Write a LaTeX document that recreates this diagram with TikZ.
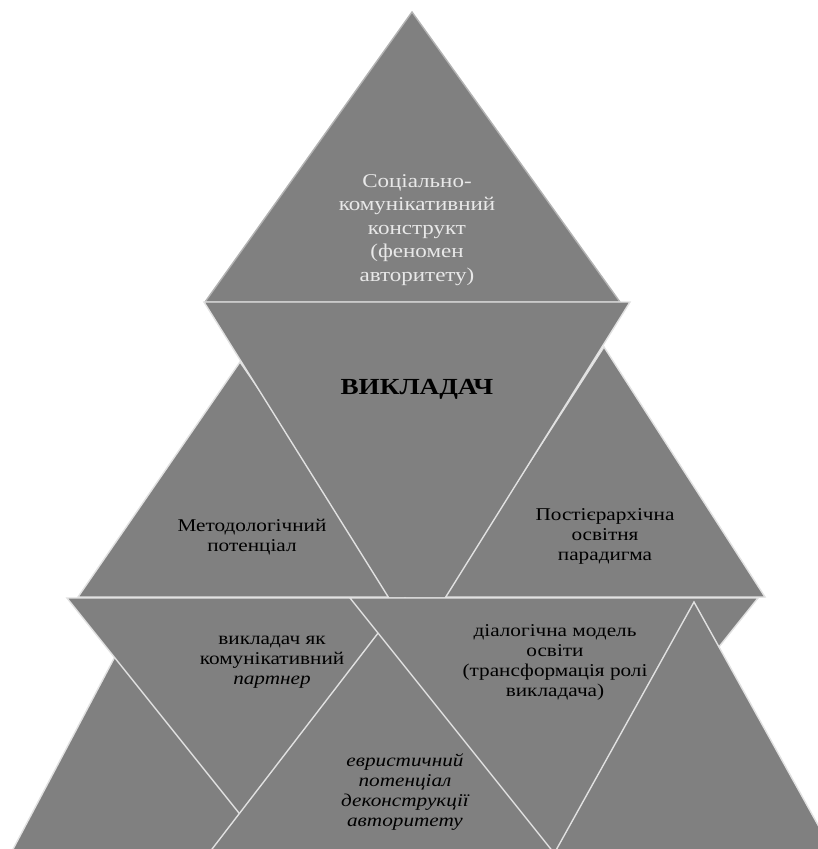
\documentclass[tikz,border=0pt]{standalone}
\usepackage{fontspec}
\setmainfont{Liberation Serif}
\newfontfamily\wserif[FakeStretch=1.18]{Liberation Serif}
\definecolor{tgray}{RGB}{128,128,128}
\definecolor{tline}{RGB}{225,225,225}
\definecolor{toptext}{RGB}{232,232,232}
\tikzset{
  tri/.style={fill=tgray, draw=tline, line width=1.4pt, line join=miter},
  lbl/.style={align=center, inner sep=0pt, text=black,
    font=\wserif\fontsize{18}{20}\selectfont},
  toplbl/.style={align=center, inner sep=0pt, text=toptext,
    font=\wserif\fontsize{19.5}{23.5}\selectfont},
}
\begin{document}
\begin{tikzpicture}[x=1pt,y=-1pt]
\useasboundingbox (0,0) rectangle (818,849);
\clip (0,0) rectangle (818,849);
% row 1
\draw[tri, draw=tgray!60!white] (412,12) -- (620,302) -- (205,302) -- cycle;
% row 2
\draw[tri] (240,362) -- (402,597) -- (78,597) -- cycle;
\draw[tri] (604,347) -- (765,597) -- (443,597) -- cycle;
\draw[tri] (204,302) -- (630,302) -- (417,643) -- cycle;
% row 3
\draw[tri] (145,600) -- (288,870) -- (2,870) -- cycle;
\draw[tri] (67,598) -- (475,598) -- (271,853) -- cycle;
\draw[tri] (405,598) -- (601,853) -- (209,853) -- cycle;
\draw[tri] (350,598) -- (758,598) -- (554,853) -- cycle;
\draw[tri] (694,602) -- (843,870) -- (545,870) -- cycle;
% labels
\node[toplbl] (top) at (417,230) {Соціально-\\комунікативний\\конструкт\\(феномен\\авторитету)};
\node[lbl, font=\wserif\bfseries\fontsize{23}{26}\selectfont] (main) at (417,389) {ВИКЛАДАЧ};
\node[lbl] (meth) at (252,537) {Методологічний\\потенціал};
\node[lbl] (post) at (605,536) {Постієрархічна\\освітня\\парадигма};
\node[lbl] (partner) at (272,662) {викладач як\\комунікативний\\\textit{партнер}};
\node[lbl] (dialog) at (555,662) {діалогічна модель\\освіти\\(трансформація ролі\\викладача)};
\node[lbl, font=\wserif\itshape\fontsize{18}{20}\selectfont] (heur) at (405,792) {евристичний\\потенціал\\деконструкції\\авторитету};
\end{tikzpicture}
\end{document}
